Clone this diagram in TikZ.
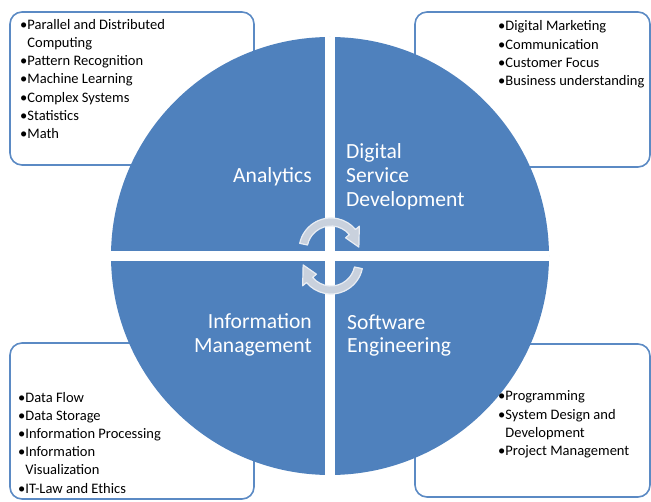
\documentclass[tikz,border=0pt]{standalone}
\usepackage{fontspec}
\setmainfont{Carlito}
\usetikzlibrary{shapes, arrows, calc}
\usepackage{color}
\definecolor{quad}{HTML}{4F81BD}
\definecolor{frame}{HTML}{5B8AC4}
\definecolor{turn}{HTML}{C9D1DD}
\definecolor{turnrim}{HTML}{E9EDF3}
\tikzset{
  listbox/.style={draw=frame, line width=1.6pt, fill=white, rounded corners=12pt},
  list/.style={anchor=base west, align=left, inner sep=0pt, text=black,
    font=\fontsize{14.5}{18.2}\selectfont},
  quadlabel/.style={inner sep=0pt, text=white, font=\fontsize{21.6}{23.8}\selectfont},
  turnarrow/.style={fill=turn, draw=turnrim, line width=1.2pt, line join=round}
}

\begin{document}
\begin{tikzpicture}[x=1pt, y=1pt]
\useasboundingbox (0,0) rectangle (651,501);
\draw[listbox] (10,336) rectangle (254,489);
\draw[listbox] (415,334) rectangle (650,489);
\draw[listbox] (10,2) rectangle (254,158);
\draw[listbox] (415,4) rectangle (650,157);
\coordinate (O) at (330,245);
\fill[quad] (O) circle[radius=219];
\draw[white, line width=10pt] ($(O)+(0,219)$) -- ($(O)+(0,-219)$);
\draw[white, line width=10pt] ($(O)+(-219,0)$) -- ($(O)+(219,0)$);
\coordinate (Ct) at (331,251);
\coordinate (Cb) at (331,239);
\filldraw[turnarrow] ($(Ct)+(168:32)$) arc[start angle=168, end angle=40, radius=32]
    -- ($(Ct)+(40:37)$) -- ($(Ct)+(6:28)$) -- ($(Ct)+(40:19)$) -- ($(Ct)+(40:24)$)
    arc[start angle=40, end angle=168, radius=24] -- cycle;
\filldraw[turnarrow] ($(Cb)+(-12:32)$) arc[start angle=-12, end angle=-140, radius=32]
    -- ($(Cb)+(-140:37)$) -- ($(Cb)+(-174:28)$) -- ($(Cb)+(-140:19)$) -- ($(Cb)+(-140:24)$)
    arc[start angle=-140, end angle=-12, radius=24] -- cycle;
\node[quadlabel, anchor=base east] at (312,318) (AN) {Analytics};
\node[quadlabel, anchor=base west, align=left] at (346,294.5) (DS) {Digital\\Service\\Development};
\node[quadlabel, anchor=base east, align=right] at (312,148.3) (IM) {Information\\Management};
\node[quadlabel, anchor=base west, align=left] at (347,148) (SE) {Software\\Engineering};
\node[list] at (20,362.5) (ANlist) {•Parallel and Distributed\\\hphantom{•}Computing\\•Pattern Recognition\\•Machine Learning\\•Complex Systems\\•Statistics\\•Math};
\node[list] at (498,415.5) (DSlist) {•Digital Marketing\\•Communication\\•Customer Focus\\•Business understanding};
\node[list] at (18,8) (IMlist) {•Data Flow\\•Data Storage\\•Information Processing\\•Information\\\hphantom{•}Visualization\\•IT-Law and Ethics};
\node[list] at (498,45.5) (SElist) {•Programming\\•System Design and\\\hphantom{•}Development\\•Project Management};
\end{tikzpicture}
\end{document}
